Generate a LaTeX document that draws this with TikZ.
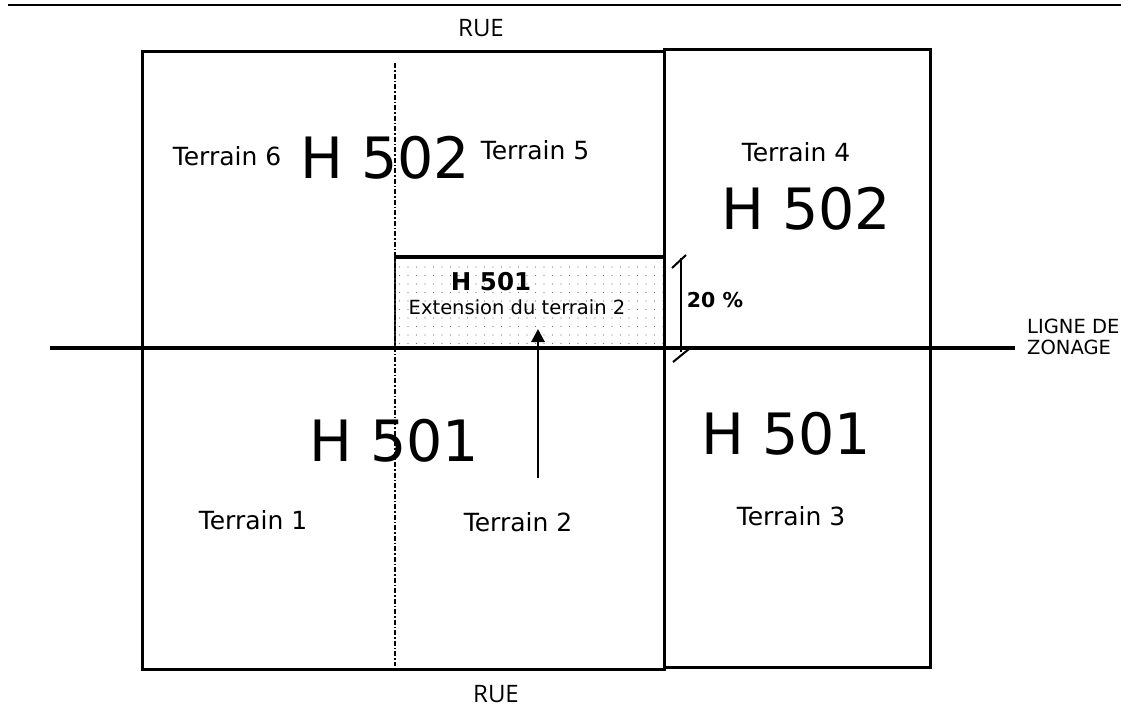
\documentclass[tikz,border=0pt]{standalone}
\usepackage{fontspec}
\setmainfont{DejaVu Sans}
\newfontfamily\ruefont{Open Sans}
\usetikzlibrary{patterns.meta,arrows.meta}
\tikzset{
  lbl/.style={inner sep=0pt, font=\fontsize{25}{28}\selectfont},
  zone/.style={inner sep=0pt, font=\fontsize{57}{60}\selectfont},
  rue/.style={inner sep=0pt, font=\ruefont\fontsize{24}{28}\selectfont},
  lot/.style={draw=black, line width=2.6pt},
}
\begin{document}
\begin{tikzpicture}[x=1pt,y=-1pt]
\useasboundingbox (0,0) rectangle (1129,709);
% top line
\coordinate (tl) at (8,5);
\coordinate (tr) at (1121,5);
\draw[line width=2.6pt] (tl) -- (tr);
% extension area
\path[pattern={Dots[distance=8.5pt,radius=0.7pt]}, pattern color=black!55] (395,257) rectangle (665,348);
\draw[line width=2pt, black!85] (395,348) -- (395,257) (665,257) -- (665,348);
\coordinate (ea) at (394,257);
\coordinate (eb) at (666,257);
\draw[line width=4pt] (ea) -- (eb);
% lots
\node[lot, minimum width=522pt, minimum height=618pt, inner sep=0pt, anchor=north west] (L) at (141,50) {};
\node[lot, minimum width=266pt, minimum height=618pt, inner sep=0pt, anchor=north west] (R) at (663,48) {};
% dash-dot line
\coordinate (d1) at (395,63);
\coordinate (d2) at (395,666);
\draw[line width=2pt, dash pattern=on 5pt off 2pt on 1.5pt off 2pt] (d1) -- (d2);
% zoning line
\coordinate (z1) at (50,348);
\coordinate (z2) at (1015,348);
\draw[line width=4.5pt] (z1) -- (z2);
\node[inner sep=0pt, anchor=west, align=left, font=\fontsize{19.5}{21}\selectfont] (lz) at (1027,337) {LIGNE DE\\ZONAGE};
% rue labels
\node[rue] (rue1) at (481,28) {RUE};
\node[rue] (rue2) at (496,694) {RUE};
% top labels
\node[lbl] (t6) at (227,156) {Terrain 6};
\node[zone] (h502a) at (385,158) {H 502};
\node[lbl] (t5) at (535,150) {Terrain 5};
\node[lbl] (t4) at (796,152) {Terrain 4};
\node[zone] (h502b) at (806,209) {H 502};
% extension text
\node[inner sep=0pt, font=\bfseries\fontsize{24.5}{28}\selectfont] (h501e) at (491,282) {H 501};
\node[inner sep=0pt, font=\fontsize{19.5}{22}\selectfont] (ext) at (517,307) {Extension du terrain 2};
% dimension
\coordinate (dm1) at (681,258);
\coordinate (dm2) at (681,352);
\draw[line width=2.6pt] (dm1) -- (dm2);
\coordinate (k1) at (672,268); \coordinate (k2) at (686,255);
\coordinate (k3) at (673,362); \coordinate (k4) at (689,349);
\draw[line width=2pt] (k1) -- (k2) (k3) -- (k4);
\node[inner sep=0pt, font=\bfseries\fontsize{20.5}{22}\selectfont] (pct) at (715,300) {20 \%};
% arrow
\coordinate (a1) at (538,478);
\coordinate (a2) at (538,329);
\draw[line width=2.8pt, -{Triangle[length=13pt,width=13pt]}] (a1) -- (a2);
% bottom labels
\node[zone] (h501a) at (394,441) {H 501};
\node[zone] (h501b) at (786,434) {H 501};
\node[lbl] (t1) at (253,520) {Terrain 1};
\node[lbl] (t2) at (518,522) {Terrain 2};
\node[lbl] (t3) at (791,516) {Terrain 3};
\end{tikzpicture}
\end{document}
